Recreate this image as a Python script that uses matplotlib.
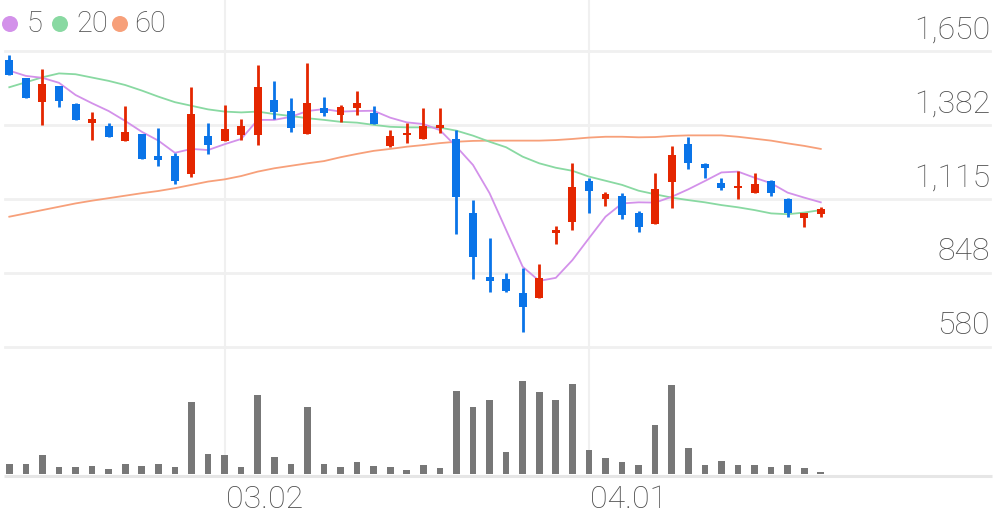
import matplotlib
matplotlib.use("Agg")
import matplotlib.pyplot as plt
from matplotlib.patches import Circle
import numpy as np

plt.rcParams['font.family'] = ['Roboto', 'DejaVu Sans']

# ---- data ----
opens = [1617,1551,1467,1525,1457,1391,1379,1326,1351,1270,1272,1204,1343,1326,1346,1346,1473,1434,1350,1445,
         1419,1443,1425,1307,1345,1331,1373,1331,1063,834,825,776,756,993,1031,1181,1115,1126,1066,1025,
         1175,1314,1240,1174,1156,1136,1181,1115,1047,1060]
closes = [1563,1479,1530,1469,1401,1404,1339,1358,1260,1256,1180,1421,1310,1368,1380,1521,1428,1372,1461,1425,
          1449,1461,1386,1344,1352,1380,1383,1123,904,819,782,725,828,1003,1160,1145,1132,1057,1013,1150,
          1274,1244,1228,1156,1161,1169,1138,1063,1066,1078]
highs = [1637,1551,1584,1525,1463,1431,1389,1452,1351,1373,1280,1519,1389,1454,1403,1601,1543,1479,1608,1485,
         1454,1507,1452,1364,1389,1443,1443,1364,1111,975,846,865,879,1017,1244,1190,1141,1138,1073,1208,
         1308,1340,1244,1190,1217,1210,1184,1118,1066,1087]
lows = [1563,1479,1383,1449,1401,1328,1339,1326,1260,1234,1169,1196,1278,1326,1328,1310,1404,1356,1350,1415,
        1392,1419,1386,1304,1316,1331,1355,989,825,778,778,633,756,951,1003,1063,1091,1043,997,1025,
        1081,1222,1190,1148,1114,1136,1126,1049,1013,1051]
ma5 = [1579,1560,1553,1535,1491,1461,1433,1397,1358,1326,1282,1296,1292,1313,1332,1401,1401,1412,1433,1440,
       1431,1433,1434,1409,1392,1386,1364,1304,1238,1136,1003,870,819,830,894,973,1051,1099,1103,1102,
       1123,1150,1180,1211,1214,1192,1172,1138,1120,1103]
ma20 = [1519,1537,1555,1569,1566,1554,1542,1527,1507,1485,1465,1452,1439,1431,1428,1431,1422,1415,1407,1401,
        1394,1391,1383,1376,1374,1374,1373,1362,1344,1322,1302,1268,1244,1228,1217,1196,1181,1166,1145,1132,
        1120,1111,1103,1093,1085,1075,1063,1060,1066,1075]
ma60 = [1051,1063,1075,1087,1099,1109,1118,1127,1136,1144,1154,1166,1178,1186,1198,1214,1226,1235,1244,1252,
        1266,1278,1289,1296,1304,1310,1317,1322,1325,1326,1326,1326,1326,1328,1332,1337,1340,1340,1338,1339,
        1343,1345,1345,1345,1340,1333,1326,1316,1307,1296]
volume = [100,103,190,76,76,80,53,103,80,100,73,723,200,190,76,790,173,103,673,103,
          73,123,80,70,40,90,63,836,670,743,223,930,823,743,903,243,160,120,90,496,
          893,260,93,136,93,93,70,93,60,20]
price_ticks = [580, 847.5, 1115, 1382.5, 1650]
price_labels = ["580", "848", "1,115", "1,382", "1,650"]
date_ticks = [13, 35]
date_labels = ["03.02", "04.01"]
legend_labels = ["5", "20", "60"]

RED = "#e42600"
BLUE = "#0a74e8"
C5, C20, C60 = "#d391ea", "#89d9a2", "#f7a07a"
GRID = "#f0f0f0"
TXT = "#4e4e4e"
FW = 'light'

W, H = 996, 519
fig = plt.figure(figsize=(W/100, H/100), dpi=100)

def frac(top_px, bot_px):
    return (H - bot_px) / H, (bot_px - top_px) / H

xlim = (-0.5616, 59.58)
n = len(opens)
x = np.arange(n)

# price axes
b, h = frac(0, 360)
ax = fig.add_axes([0, b, 1, h])
ax.set_xlim(*xlim)
ppu = 296 / 1070.0
ax.set_ylim(580 - 13/ppu, 1650 + 51/ppu)
ax.axis('off')

for v in price_ticks:
    ax.axhline(v, xmin=5/W, xmax=990/W, color=GRID, lw=2.0, zorder=0)
for d in date_ticks:
    ax.axvline(d, color=GRID, lw=1.5, zorder=0)

ax.plot(x, ma60, color=C60, lw=1.3, zorder=2)
ax.plot(x, ma20, color=C20, lw=1.3, zorder=2)
ax.plot(x, ma5, color=C5, lw=1.3, zorder=2)

o = np.array(opens); c = np.array(closes)
cols = [RED if cc >= oo else BLUE for oo, cc in zip(o, c)]
ax.vlines(x, lows, highs, colors=cols, lw=2.0, zorder=3)
bottoms = np.minimum(o, c)
heights = np.maximum(np.abs(c - o), 4)
ax.bar(x, heights, bottom=bottoms, width=0.48, color=cols, zorder=4, linewidth=0)

for v, lbl in zip(price_ticks, price_labels):
    ax.annotate(lbl, xy=(990/W, v), xycoords=('axes fraction', 'data'),
                xytext=(0, 21), textcoords='offset pixels', ha='right', va='center',
                fontsize=23, color=TXT, fontweight=FW)

# volume axes
b, h = frac(360, 474.3)
axv = fig.add_axes([0, b, 1, h])
axv.set_xlim(*xlim)
axv.set_ylim(0, 1143)
axv.axis('off')
for d in date_ticks:
    axv.axvline(d, color=GRID, lw=1.5, zorder=0)
axv.bar(x, volume, width=0.4, color="#777777", linewidth=0, zorder=2)

# overlay for legend, baseline and date labels
ov = fig.add_axes([0, 0, 1, 1])
ov.set_xlim(0, W)
ov.set_ylim(H, 0)
ov.axis('off')
ov.patch.set_alpha(0)
ov.plot([4, 992], [476, 476], color="#e6e6e6", lw=2.2, solid_capstyle='butt')

leg_x = [10, 60, 120]
text_x = [26, 76, 134]
for cx, tx, col, lbl in zip(leg_x, text_x, [C5, C20, C60], legend_labels):
    ov.add_patch(Circle((cx, 24), 8, color=col, lw=0))
    ov.text(tx, 24, lbl, ha='left', va='center', fontsize=21, color=TXT, fontweight=FW)

for d, lbl in zip(date_ticks, date_labels):
    px = (d - xlim[0]) / (xlim[1] - xlim[0]) * W
    ov.text(px + 1, 499, lbl, ha='left', va='center', fontsize=23, color=TXT, fontweight=FW)

fig.savefig("out.png", dpi=100)
